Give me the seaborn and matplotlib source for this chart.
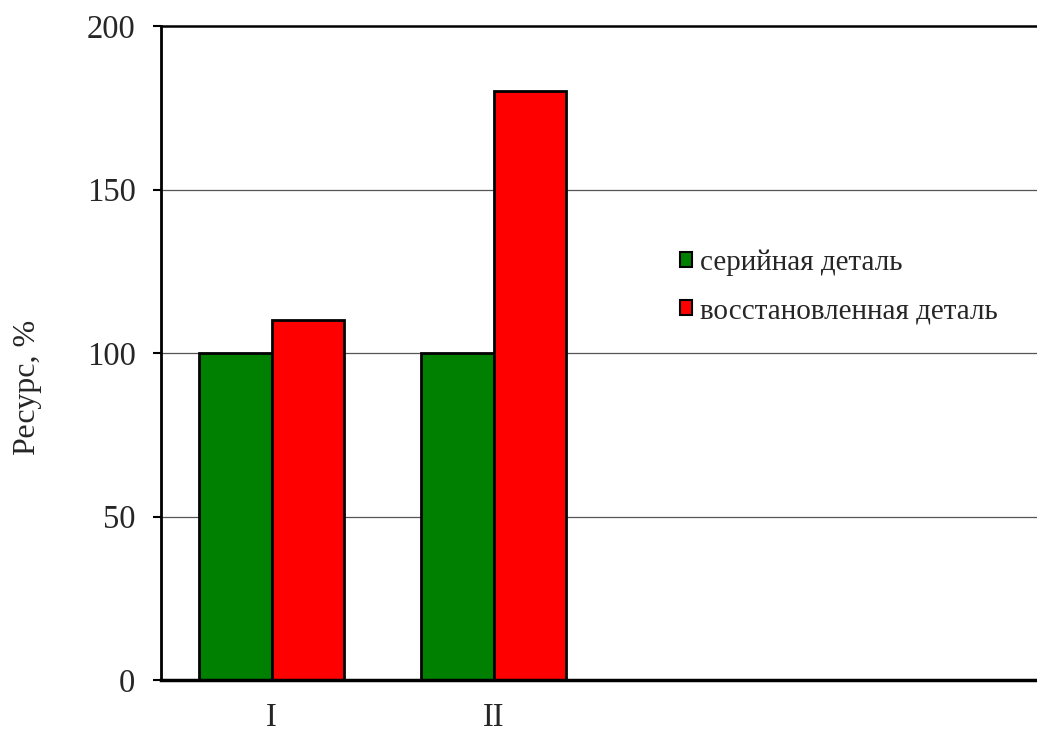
import matplotlib
matplotlib.use("Agg")
import matplotlib.pyplot as plt
import seaborn as sns
import pandas as pd
from matplotlib.patches import Patch

categories = ["I", "II"]
slot_labels = ["I", "II", "", " "]
series_names = ["серийная деталь", "восстановленная деталь"]
serial_values = [100, 100]
restored_values = [110, 180]
colors = ["#008000", "#FF0000"]
y_ticks = [0, 50, 100, 150, 200]

sns.set_theme(style="white")
plt.rcParams["font.family"] = ["Liberation Serif", "DejaVu Serif"]

rows = []
for c, s, r in zip(categories, serial_values, restored_values):
    rows.append({"cat": c, "series": series_names[0], "val": s})
    rows.append({"cat": c, "series": series_names[1], "val": r})
df = pd.DataFrame(rows)

fig = plt.figure(figsize=(10.37, 7.31), dpi=100)
ax = fig.add_axes([160.5 / 1037, 51 / 731, 888 / 1037, 654 / 731])

sns.barplot(data=df, x="cat", y="val", hue="series", order=slot_labels,
            hue_order=series_names, palette=colors, width=0.653,
            edgecolor="black", linewidth=2, saturation=1, ax=ax, legend=False)

ax.set_xlim(-0.5, 3.5)
ax.set_ylim(0, 200)
ax.set_yticks(y_ticks)
ax.set_yticklabels([str(t) for t in y_ticks], fontsize=23.5)
ax.set_xticks(range(len(slot_labels)))
ax.set_xticklabels(slot_labels, fontsize=23.5)
ax.tick_params(axis="x", length=0, pad=16)
ax.tick_params(axis="y", length=6, width=1.5, direction="out", pad=12, left=True, color="black")
for y in y_ticks[1:-1]:
    ax.axhline(y, color="#555555", lw=0.9, zorder=0)
ax.set_xlabel("")
ax.set_ylabel("Ресурс, %", fontsize=23)
ax.yaxis.set_label_coords((27 - 160.5) / 888, (680 - 387) / 654)
ax.yaxis.label.set_va("center")

for side in ["left", "bottom"]:
    ax.spines[side].set_visible(True)
    ax.spines[side].set_color("black")
ax.spines["left"].set_linewidth(2)
ax.spines["bottom"].set_linewidth(2.5)
ax.spines["top"].set_visible(True)
ax.spines["top"].set_color("black")
ax.spines["top"].set_linewidth(1.8)
ax.spines["right"].set_visible(False)

handles = [Patch(facecolor=col, edgecolor="black", linewidth=1.5) for col in colors]
leg = fig.legend(handles, series_names, loc="upper left",
                 bbox_to_anchor=(668 / 1037, 1 - 238 / 731), frameon=False,
                 fontsize=21, handlelength=0.42, handleheight=0.42,
                 handletextpad=0.28, labelspacing=0.75, borderaxespad=0)

fig.savefig("out.png", dpi=100, facecolor="white")
